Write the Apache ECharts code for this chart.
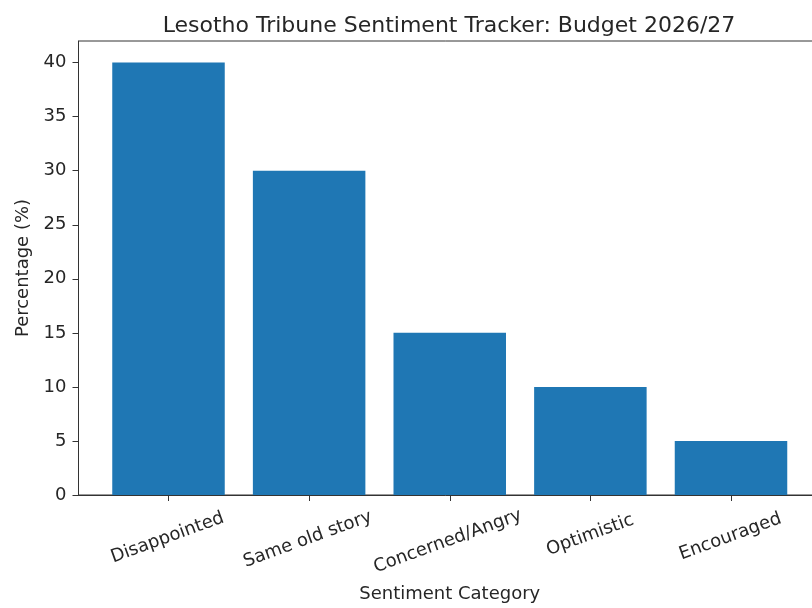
<!DOCTYPE html>
<html>
<head>
<meta charset="utf-8">
<script src="https://cdn.jsdelivr.net/npm/echarts@6/dist/echarts.min.js"></script>
<style>html,body{margin:0;padding:0;background:#fff}#c{width:812px;height:608px}</style>
</head>
<body>
<div id="c"></div>
<script>
const categories = ['Disappointed', 'Same old story', 'Concerned/Angry', 'Optimistic', 'Encouraged'];
const values = [40, 30, 15, 10, 5];
const yTicks = [0, 5, 10, 15, 20, 25, 30, 35, 40];
const titleText = 'Lesotho Tribune Sentiment Tracker: Budget 2026/27';
const xName = 'Sentiment Category';
const yName = 'Percentage (%)';

const FONT = 'DejaVu Sans';
const TXT = '#262626';
const FS = 18;
const ROT = 20;

// per-label padding so that each rotated label's bounding box is centred on its tick
// with a common top edge (matplotlib-like ha="center")
const ctx = document.createElement('canvas').getContext('2d');
ctx.font = FS + 'px "' + FONT + '"';
const sn = Math.sin(ROT * Math.PI / 180), cs = Math.cos(ROT * Math.PI / 180);
const lineH = FS * 1.2;
const rich = {};
categories.forEach((c, i) => {
  const w = ctx.measureText(c).width;
  const Y = (w / 2) * sn;           // push down
  const X = -1.5;                   // small horizontal correction
  const dx = cs * X - sn * Y;
  const dy = sn * X + cs * Y;
  rich['l' + i] = {
    fontFamily: FONT, fontSize: FS, color: TXT, lineHeight: lineH,
    padding: [Math.max(dy, 0), dx < 0 ? -2 * dx : 0, 0, dx > 0 ? 2 * dx : 0]
  };
});

const chart = echarts.init(document.getElementById('c'), null, {renderer: 'canvas'});
const idx = categories.map((c, i) => i);
chart.setOption({
  animation: false,
  title: {
    text: titleText, left: 444, top: 10, textAlign: 'center',
    textStyle: {fontFamily: FONT, fontSize: 22, fontWeight: 'normal', color: TXT}
  },
  grid: {left: 78.5, right: -9, top: 41, bottom: 113, outerBoundsMode: 'none', containLabel: false,
         show: true, borderColor: '#333', borderWidth: 1, backgroundColor: 'transparent'},
  xAxis: {
    type: 'value', min: -0.64, max: 4.64,
    name: xName, nameLocation: 'middle', nameGap: 90,
    nameTextStyle: {fontFamily: FONT, fontSize: FS, color: TXT},
    axisLine: {show: true, onZero: false, lineStyle: {color: '#333'}},
    axisTick: {show: true, customValues: idx, length: 6, lineStyle: {color: '#333'}},
    splitLine: {show: false},
    axisLabel: {
      customValues: idx, rotate: ROT, align: 'center', verticalAlign: 'top', margin: 21,
      fontFamily: FONT, fontSize: FS, color: TXT, rich: rich,
      formatter: v => { const i = Math.round(v); return '{l' + i + '|' + categories[i] + '}'; }
    }
  },
  yAxis: {
    type: 'value', min: 0, max: 42, interval: 5,
    name: yName, nameLocation: 'middle', nameGap: 44, nameRotate: 90,
    nameTextStyle: {fontFamily: FONT, fontSize: FS, color: TXT},
    axisLine: {show: true, onZero: false, lineStyle: {color: '#333'}},
    axisTick: {show: true, customValues: yTicks, length: 6, lineStyle: {color: '#333'}},
    splitLine: {show: false},
    axisLabel: {customValues: yTicks, margin: 12, fontFamily: FONT, fontSize: FS, color: TXT}
  },
  series: [{
    type: 'bar', barWidth: 112.5,
    data: categories.map((c, i) => [i, values[i]]),
    itemStyle: {color: '#1f77b4'}
  }]
});
</script>
</body>
</html>
